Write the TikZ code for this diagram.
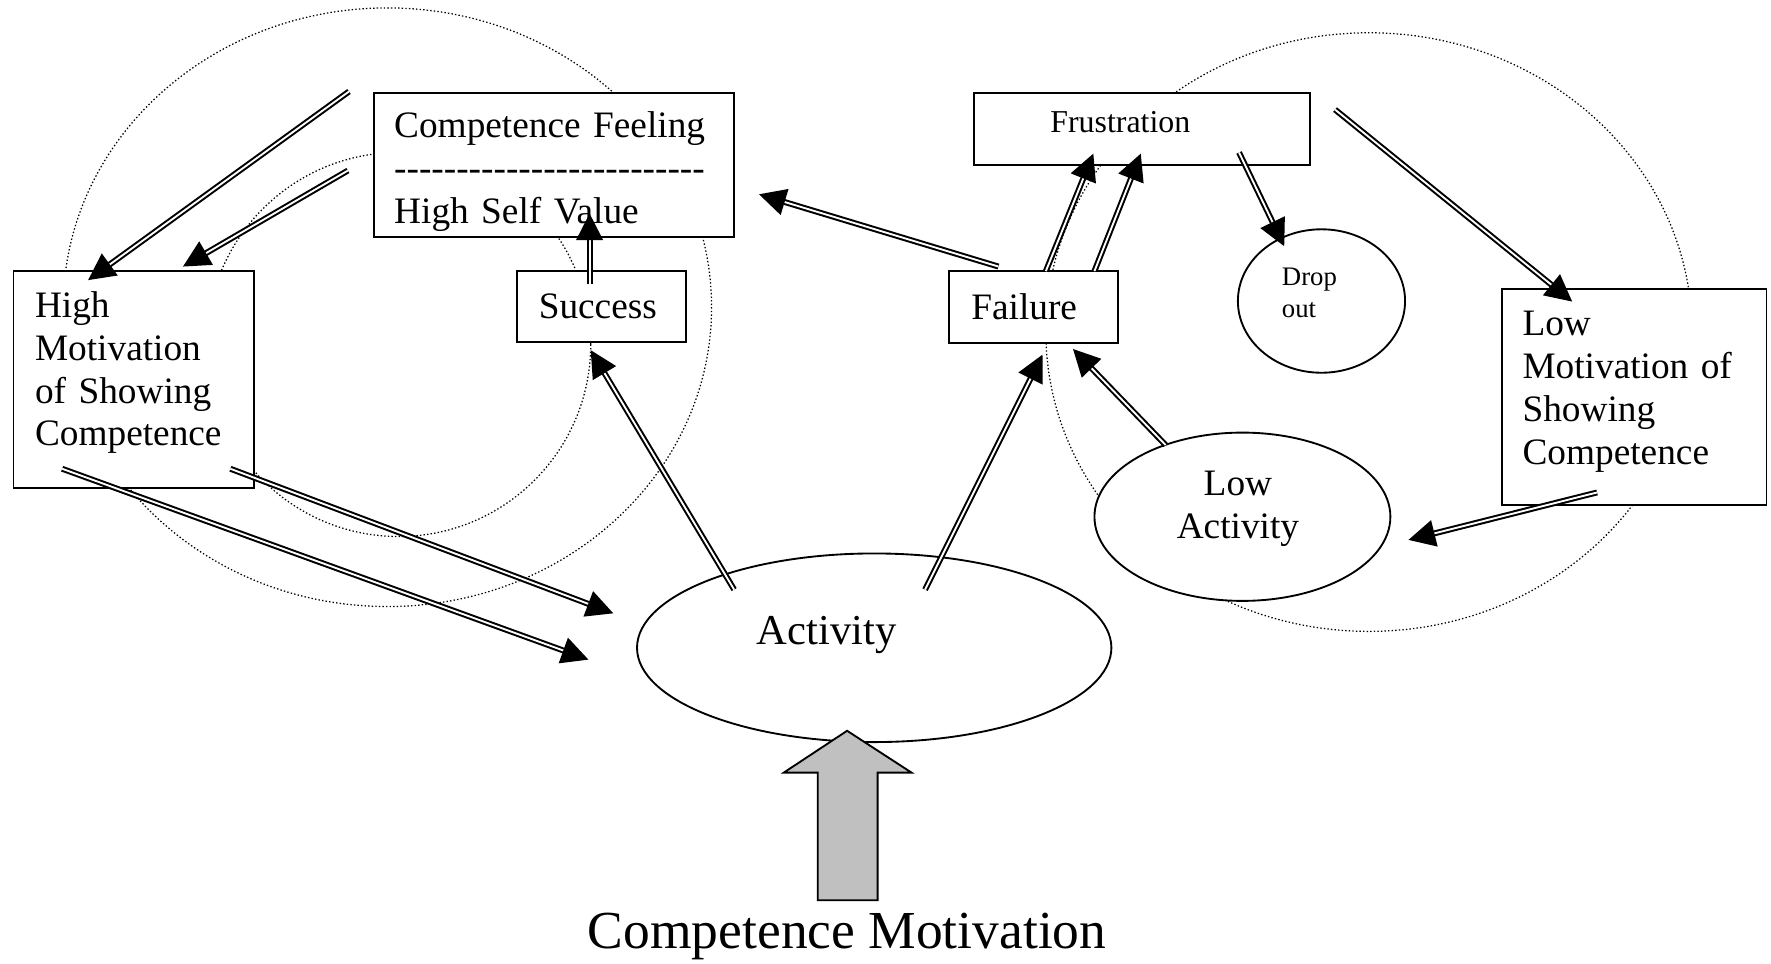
\documentclass[tikz,border=0pt]{standalone}
\usepackage{fontspec}
\setmainfont{Liberation Serif}
\usetikzlibrary{arrows.meta,shapes.geometric}
\definecolor{arrowgray}{RGB}{192,192,192}
\newcommand\hy{-\kern0pt}
\newcommand\lifted[3]{\raisebox{#1}[\height][\depth]{\begin{tabular}{@{}#2@{}}#3\end{tabular}}}
\def\pxu{0.3632pt}
\begin{document}
\begin{tikzpicture}[x=0.3632pt, y=-0.3632pt,
  box/.style={draw, line width=0.6pt, fill=white, rectangle, inner sep=0pt, align=left, font=\fontsize{12pt}{13.8pt}\selectfont},
  oval/.style={draw, line width=0.6pt, fill=white, ellipse, inner sep=0pt, font=\fontsize{12pt}{13.8pt}\selectfont},
  halo/.style={line width=0.4pt, dash pattern=on 0.45pt off 0.7pt},
  dbl/.style={double, line width=0.65pt, double distance=0.6pt, -{Triangle[length=8.6pt,width=8.6pt]}},
]
\useasboundingbox (0,0) rectangle (1568,853);

% dotted halos
\draw[halo] (343,272) ellipse [x radius=287, y radius=265];
\draw[halo] (353,305) ellipse [x radius=170, y radius=170];
\draw[halo] (1212,294) ellipse [x radius=286, y radius=265];

% boxes
\node[box, minimum width=319*\pxu, minimum height=128*\pxu, text width=283*\pxu] (cf) at (490.5,146)
  {\lifted{-2.3pt}{l}{Competence Feeling\\\hy\hy\hy\hy\hy\hy\hy\hy\hy\hy\hy\hy\hy\hy\hy\hy\hy\hy\hy\hy\hy\hy\hy\hy\hy\\High Self Value}};
\node[box, minimum width=213*\pxu, minimum height=192*\pxu, text width=175*\pxu] (hm) at (118.5,336)
  {\lifted{2.1pt}{l}{High\\Motivation\\of Showing\\Competence}};
\node[box, minimum width=149*\pxu, minimum height=63*\pxu, text width=111*\pxu] (succ) at (532.5,271.5) {Success};
\node[box, minimum width=150*\pxu, minimum height=64*\pxu, text width=110*\pxu] (fail) at (915,272) {Failure};
\node[box, minimum width=298*\pxu, minimum height=64*\pxu, text width=162*\pxu, font=\fontsize{10.25pt}{12pt}\selectfont] (frus) at (1011,114)
  {\lifted{1.1pt}{l}{Frustration}};
\node[box, minimum width=234*\pxu, minimum height=191*\pxu, text width=198*\pxu] (lm) at (1447,351.5)
  {\lifted{1.9pt}{l}{Low\\Motivation of\\Showing\\Competence}};

% ovals
\node[oval, minimum width=148*\pxu, minimum height=127*\pxu, text width=70*\pxu, align=left, font=\fontsize{8.6pt}{10.2pt}\selectfont] (drop) at (1170,266.5) {\lifted{1.8pt}{l}{Drop\\out}};
\node[oval, minimum width=262*\pxu, minimum height=149*\pxu] (lowact) at (1100,457.5) {\lifted{2.6pt}{c}{Low\\Activity}\hspace*{2.9pt}};
\node[oval, minimum width=420*\pxu, minimum height=167*\pxu, text width=208*\pxu, align=left, font=\fontsize{13.7pt}{16pt}\selectfont] (act) at (774,573.5) {\lifted{4.4pt}{l}{Activity}};

% big grey arrow and caption
\draw[line width=0.6pt, fill=arrowgray] (724,797) -- (777,797) -- (777,684) -- (807,684) -- (750,647) -- (694,684) -- (724,684) -- cycle;
\node[inner sep=0pt, font=\fontsize{17.2pt}{20pt}\selectfont] (title) at (750,829) {Competence Motivation};

% arrow end points
\coordinate (a1s) at (309,81);   \coordinate (a1e) at (78,248);
\coordinate (a2s) at (308,151);  \coordinate (a2e) at (162,236);
\coordinate (a3s) at (522,251);  \coordinate (a3e) at (522,189);
\coordinate (a4s) at (650,522);  \coordinate (a4e) at (523,310);
\coordinate (a5s) at (884,236);  \coordinate (a5e) at (672,172);
\coordinate (a6s) at (926,240);  \coordinate (a6e) at (968,136);
\coordinate (a7s) at (969,240);  \coordinate (a7e) at (1010,136);
\coordinate (a8s) at (1097,135); \coordinate (a8e) at (1137,218);
\coordinate (a9s) at (1182,97);  \coordinate (a9e) at (1392,267);
\coordinate (a10s) at (819,522); \coordinate (a10e) at (923,314);
\coordinate (a11s) at (1032,394);\coordinate (a11e) at (950,309);
\coordinate (a12s) at (1414,436);\coordinate (a12e) at (1247,478);
\coordinate (a13s) at (204,415); \coordinate (a13e) at (543,543);
\coordinate (a14s) at (55,415);  \coordinate (a14e) at (521,584);

% double arrows
\draw[dbl] (a1s) -- (a1e);
\draw[dbl] (a2s) -- (a2e);
\draw[dbl] (a3s) -- (a3e);
\draw[dbl] (a4s) -- (a4e);
\draw[dbl] (a5s) -- (a5e);
\draw[dbl] (a6s) -- (a6e);
\draw[dbl] (a7s) -- (a7e);
\draw[dbl] (a8s) -- (a8e);
\draw[dbl] (a9s) -- (a9e);
\draw[dbl] (a10s) -- (a10e);
\draw[dbl] (a11s) -- (a11e);
\draw[dbl] (a12s) -- (a12e);
\draw[dbl] (a13s) -- (a13e);
\draw[dbl] (a14s) -- (a14e);
\end{tikzpicture}
\end{document}
